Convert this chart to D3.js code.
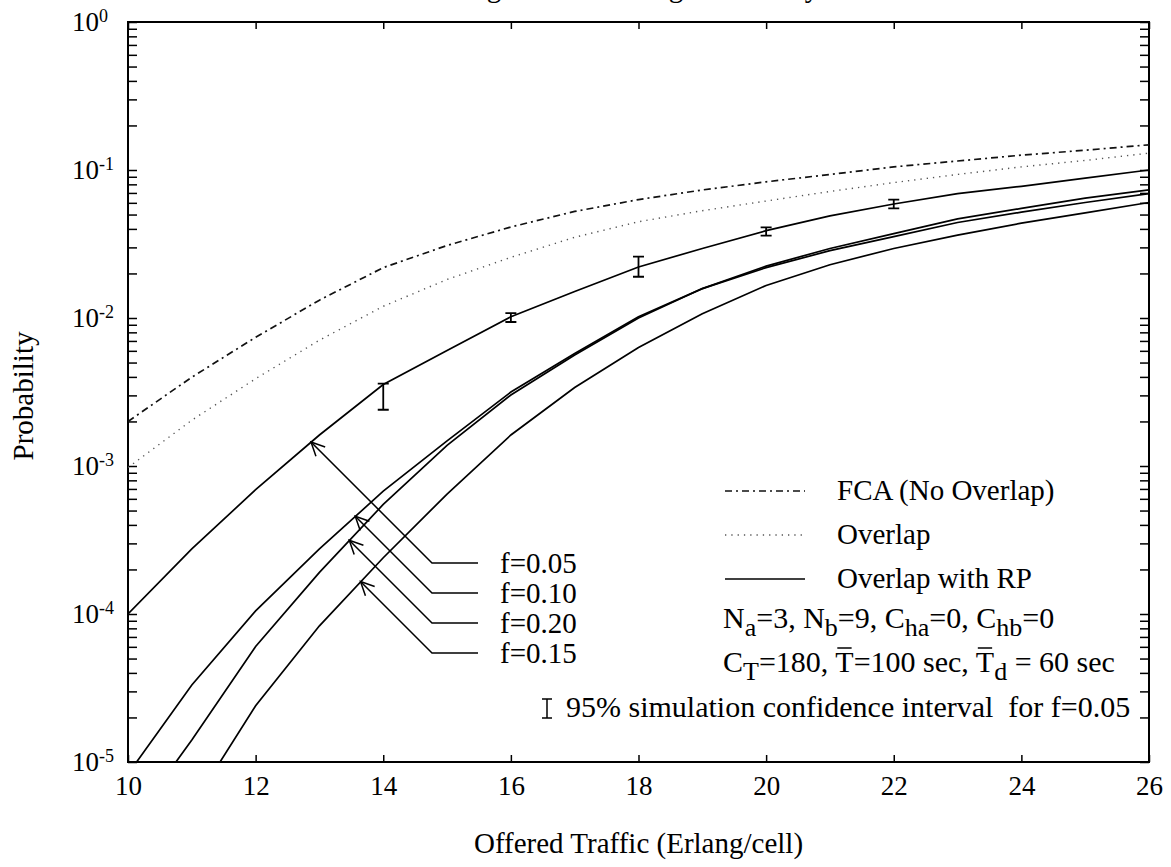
<!DOCTYPE html>
<html>
<head>
<meta charset="utf-8">
<script src="https://cdn.jsdelivr.net/npm/d3@7"></script>
<style>
body { margin: 0; background: #fff; }
svg { font-family: "Liberation Serif", "Times New Roman", serif; }
</style>
</head>
<body>
<div id="vizDiv"></div>
<script>
var width = 1171, height = 867;

// offered traffic (Erlang/cell)
var traffic = [10, 11, 12, 13, 14, 15, 16, 17, 18, 19, 20, 21, 22, 23, 24, 25, 26];
var traffic15 = [11, 12, 13, 14, 15, 16, 17, 18, 19, 20, 21, 22, 23, 24, 25, 26];

// blocking probability
var fcaNoOverlap = [0.00200, 0.00398, 0.00741, 0.0132, 0.0219, 0.0309, 0.0412, 0.0525, 0.0631,
                    0.0733, 0.0832, 0.0933, 0.105, 0.115, 0.126, 0.136, 0.148];
var overlap = [0.000977, 0.00204, 0.00389, 0.00708, 0.0120, 0.0182, 0.0257, 0.0351, 0.0447,
               0.0531, 0.0617, 0.0716, 0.0822, 0.0933, 0.105, 0.116, 0.130];
var rpF005 = [0.000100, 0.000275, 0.000692, 0.00162, 0.00355, 0.00603, 0.0102, 0.0151, 0.0221,
              0.0295, 0.0389, 0.0490, 0.0589, 0.0692, 0.0776, 0.0881, 0.100];
var rpF010 = [0.0000083, 0.0000331, 0.000105, 0.000275, 0.000676, 0.00148, 0.00316, 0.00575, 0.0102,
              0.0158, 0.0224, 0.0295, 0.0372, 0.0468, 0.0550, 0.0646, 0.0733];
var rpF020 = [0.00000355, 0.0000141, 0.0000603, 0.000191, 0.000550, 0.00138, 0.00302, 0.00562, 0.0100,
              0.0158, 0.0219, 0.0285, 0.0355, 0.0442, 0.0519, 0.0603, 0.0692];
var rpF015 = [0.0000050, 0.0000240, 0.0000832, 0.000240, 0.000646, 0.00162, 0.00339, 0.00631,
              0.0107, 0.0166, 0.0229, 0.0295, 0.0363, 0.0437, 0.0513, 0.0603];

// 95% simulation confidence interval for f=0.05
var ciTraffic = [14, 16, 18, 20, 22];
var ciLow = [0.0024, 0.0094, 0.019, 0.036, 0.055];
var ciHigh = [0.0036, 0.0108, 0.026, 0.041, 0.063];

var xTicks = [10, 12, 14, 16, 18, 20, 22, 24, 26];
var yExponents = [0, -1, -2, -3, -4, -5];
var fLabels = ["f=0.05", "f=0.10", "f=0.20", "f=0.15"];
var legendLabels = ["FCA (No Overlap)", "Overlap", "Overlap with RP"];

var svg = d3.select("#vizDiv")
  .append("svg")
  .attr("width", width)
  .attr("height", height)

var x = d3.scaleLinear().domain([10, 26]).range([128, 1149]);
var y = d3.scaleLog().domain([1e-5, 1]).range([762, 22]);

var serif = "Liberation Serif, Times New Roman, serif";

svg.append("clipPath").attr("id", "plotClip")
  .append("rect")
  .attr("x", x(10)).attr("y", y(1))
  .attr("width", x(26) - x(10)).attr("height", y(1e-5) - y(1));

// title, cut off by the top edge of the scan
svg.append("text")
  .attr("x", 418).attr("y", -3)
  .attr("font-size", 29)
  .text("Average Call Blocking Probability");

// axes (ticks only, pointing inward)
function styleAxis(g) {
  g.select(".domain").remove();
  g.selectAll(".tick line").attr("stroke", "#000").attr("stroke-width", 1.5);
  g.attr("font-family", serif).attr("font-size", 27);
  g.selectAll(".tick text").attr("fill", "#000");
}

svg.append("g")
  .attr("transform", "translate(0," + y(1e-5) + ")")
  .call(d3.axisBottom(x).tickValues(xTicks).tickSize(-7).tickSizeOuter(0).tickPadding(14).tickFormat(d3.format("d")))
  .call(styleAxis);

svg.append("g")
  .attr("transform", "translate(0," + y(1) + ")")
  .call(d3.axisTop(x).tickValues(xTicks).tickSize(-7).tickSizeOuter(0).tickFormat(""))
  .call(styleAxis);

svg.append("g")
  .attr("transform", "translate(" + x(10) + ",0)")
  .call(d3.axisLeft(y).tickValues(y.ticks()).tickSize(-9).tickSizeOuter(0).tickFormat(""))
  .call(styleAxis);

svg.append("g")
  .attr("transform", "translate(" + x(26) + ",0)")
  .call(d3.axisRight(y).tickValues(y.ticks()).tickSize(-9).tickSizeOuter(0).tickFormat(""))
  .call(styleAxis);

// y tick labels with superscripts
yExponents.forEach(function(e) {
  var t = svg.append("text")
    .attr("x", 72)
    .attr("y", y(Math.pow(10, e)) + 9)
    .attr("font-size", 27)
  t.append("tspan").text("10");
  t.append("tspan").attr("font-size", 18).attr("dy", -9).text(e === 0 ? "0" : "-" + Math.abs(e));
});

// plot frame
svg.append("rect")
  .attr("x", x(10)).attr("y", y(1))
  .attr("width", x(26) - x(10)).attr("height", y(1e-5) - y(1))
  .attr("fill", "none").attr("stroke", "#000").attr("stroke-width", 2);

// axis titles
svg.append("text")
  .attr("transform", "translate(33,396) rotate(-90)")
  .attr("text-anchor", "middle")
  .attr("font-size", 29)
  .text("Probability");

svg.append("text")
  .attr("x", (x(10) + x(26)) / 2).attr("y", 853)
  .attr("text-anchor", "middle")
  .attr("font-size", 29)
  .text("Offered Traffic (Erlang/cell)");

// curves
var line = d3.line().x(function(d) { return x(d[0]); }).y(function(d) { return y(d[1]); });

var styles = {
  dashdot: { dash: "7,4,2,4", w: 1.7, color: "#111" },
  dotted: { dash: "1.3,5", w: 1.4, color: "#555" },
  solid: { dash: null, w: 1.7, color: "#000" }
};

var curves = [
  { xs: traffic, ys: fcaNoOverlap, style: "dashdot" },
  { xs: traffic, ys: overlap, style: "dotted" },
  { xs: traffic, ys: rpF005, style: "solid" },
  { xs: traffic, ys: rpF010, style: "solid" },
  { xs: traffic, ys: rpF020, style: "solid" },
  { xs: traffic15, ys: rpF015, style: "solid" }
];

var plot = svg.append("g").attr("clip-path", "url(#plotClip)");
curves.forEach(function(c) {
  var s = styles[c.style];
  plot.append("path")
    .attr("d", line(d3.zip(c.xs, c.ys)))
    .attr("fill", "none")
    .attr("stroke", s.color)
    .attr("stroke-width", s.w)
    .attr("stroke-dasharray", s.dash);
});

// confidence interval bars
ciTraffic.forEach(function(t, i) {
  var cx = x(t), y0 = y(ciLow[i]), y1 = y(ciHigh[i]);
  var d = "M" + cx + "," + y0 + "V" + y1 +
          "M" + (cx - 5.5) + "," + y0 + "H" + (cx + 5.5) +
          "M" + (cx - 5.5) + "," + y1 + "H" + (cx + 5.5);
  plot.append("path").attr("d", d).attr("fill", "none").attr("stroke", "#000").attr("stroke-width", 1.8);
});

// f labels: leader lines with arrows that run up-left at 45 degrees
function curveYAt(xs, ys, px) {
  for (var i = 0; i < xs.length - 1; i++) {
    var a = x(xs[i]), b = x(xs[i + 1]);
    if (px >= a && px <= b) {
      var k = (px - a) / (b - a);
      return y(ys[i]) + k * (y(ys[i + 1]) - y(ys[i]));
    }
  }
  return null;
}

var labelCurves = [curves[2], curves[3], curves[4], curves[5]];
var leaderX0 = 432, leaderX1 = 478, leaderY0 = 563, leaderGap = 30;

fLabels.forEach(function(lbl, i) {
  var c = labelCurves[i];
  var ly = leaderY0 + i * leaderGap;
  var tip = null;
  for (var t = 0; t < 300; t += 0.25) {
    var cy = curveYAt(c.xs, c.ys, leaderX0 - t);
    if (cy !== null && ly - t <= cy) { tip = [leaderX0 - t, ly - t]; break; }
  }
  svg.append("path")
    .attr("d", "M" + leaderX1 + "," + ly + "H" + leaderX0 + "L" + tip[0] + "," + tip[1])
    .attr("fill", "none").attr("stroke", "#000").attr("stroke-width", 1.5);
  // open arrow head
  var ang = Math.PI / 4, arm = 15, spread = 0.45;
  var a1 = [tip[0] + arm * Math.cos(ang + spread), tip[1] + arm * Math.sin(ang + spread)];
  var a2 = [tip[0] + arm * Math.cos(ang - spread), tip[1] + arm * Math.sin(ang - spread)];
  svg.append("path")
    .attr("d", "M" + a1 + "L" + tip + "L" + a2)
    .attr("fill", "none").attr("stroke", "#000").attr("stroke-width", 1.5);
  svg.append("text")
    .attr("x", 500).attr("y", ly + 10)
    .attr("font-size", 29)
    .text(lbl);
});

// legend
var legX0 = 725, legX1 = 805, legTextX = 837, legY0 = 491, legGap = 44;
["dashdot", "dotted", "solid"].forEach(function(st, i) {
  var s = styles[st];
  var ly = legY0 + i * legGap;
  svg.append("line")
    .attr("x1", legX0).attr("x2", legX1).attr("y1", ly).attr("y2", ly)
    .attr("stroke", s.color).attr("stroke-width", s.w).attr("stroke-dasharray", s.dash);
  svg.append("text")
    .attr("x", legTextX).attr("y", ly + 9)
    .attr("font-size", 29)
    .text(legendLabels[i]);
});

// parameter lines with subscripts and overbars
function richText(px, py, parts) {
  var t = svg.append("text").attr("x", px).attr("y", py).attr("font-size", 30).style("white-space", "pre");
  var idx = 0, bars = [], shift = 0;
  parts.forEach(function(p) {
    var ts = t.append("tspan").text(p.s);
    var want = p.sub ? 8 : 0;
    if (want !== shift) { ts.attr("dy", want - shift); shift = want; }
    if (p.sub) ts.attr("font-size", 26);
    if (p.bar) bars.push(idx);
    idx += p.s.length;
  });
  bars.forEach(function(ci) {
    var ext = t.node().getExtentOfChar(ci);
    svg.append("line")
      .attr("x1", ext.x + 2).attr("x2", ext.x + ext.width - 2)
      .attr("y1", py - 24).attr("y2", py - 24)
      .attr("stroke", "#000").attr("stroke-width", 1.5);
  });
  return t;
}

richText(723, 628, [
  { s: "N" }, { s: "a", sub: true }, { s: "=3, N" }, { s: "b", sub: true },
  { s: "=9, C" }, { s: "ha", sub: true }, { s: "=0, C" }, { s: "hb", sub: true }, { s: "=0" }
]);

richText(723, 672, [
  { s: "C" }, { s: "T", sub: true }, { s: "=180, " }, { s: "T", bar: true }, { s: "=100 sec, " },
  { s: "T", bar: true }, { s: "d", sub: true }, { s: " = 60 sec" }
]);

// confidence interval legend glyph
var gx = 547, gy0 = 699, gy1 = 718;
svg.append("path")
  .attr("d", "M" + gx + "," + gy0 + "V" + gy1 + "M" + (gx - 5) + "," + gy0 + "H" + (gx + 5) + "M" + (gx - 5) + "," + gy1 + "H" + (gx + 5))
  .attr("fill", "none").attr("stroke", "#000").attr("stroke-width", 1.5);
svg.append("text")
  .attr("x", 566).attr("y", 717)
  .attr("font-size", 30)
  .style("white-space", "pre")
  .text("95% simulation confidence interval  for f=0.05");
</script>
</body>
</html>
